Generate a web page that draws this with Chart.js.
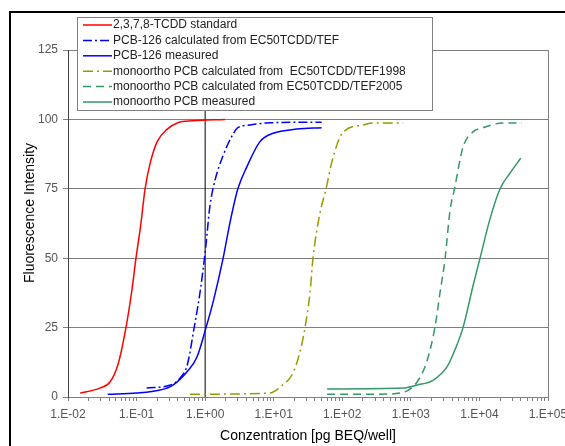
<!DOCTYPE html>
<html>
<head>
<meta charset="utf-8">
<script src="https://cdn.jsdelivr.net/npm/chart.js@4"></script>
<style>
  html, body { margin: 0; padding: 0; background: #fff; }
  #wrap { width: 565px; height: 446px; position: relative; }
</style>
</head>
<body>
<div id="wrap"><canvas id="fusionChart" width="565" height="446"></canvas></div>
<script>
// x ticks (log scale, pg BEQ/well)
const xTickValues = [0.01, 0.1, 1, 10, 100, 1000, 10000, 100000];
const xTickLabels = ["1.E-02", "1.E-01", "1.E+00", "1.E+01", "1.E+02", "1.E+03", "1.E+04", "1.E+05"];
const yTicks = [0, 25, 50, 75, 100, 125];

const seriesNames = [
  "2,3,7,8-TCDD standard",
  "PCB-126 calculated from EC50TCDD/TEF",
  "PCB-126 measured",
  "monoortho PCB calculated from  EC50TCDD/TEF1998",
  "monoortho PCB calculated from EC50TCDD/TEF2005",
  "monoortho PCB measured"
];

// 2,3,7,8-TCDD standard
const tcddX = [0.015, 0.029, 0.041, 0.054, 0.07, 0.085, 0.098, 0.115, 0.133, 0.157, 0.2, 0.28, 0.4, 0.66, 1.95];
const tcddY = [1.4, 3.2, 5.4, 12, 25, 38, 50, 62, 75, 84, 92, 96.5, 98.8, 99.5, 100];

// PCB-126 calculated
const pcbCalcX = [0.14, 0.31, 0.43, 0.54, 0.6, 0.67, 0.84, 1.02, 1.17, 1.39, 1.83, 2.46, 3.0, 4.5, 8.8, 50];
const pcbCalcY = [3.2, 4.3, 6.8, 10.9, 16, 23, 37.5, 54, 68.5, 78, 87, 94, 97, 98, 98.8, 99];

// PCB-126 measured
const pcbMeasX = [0.038, 0.1, 0.22, 0.34, 0.54, 0.76, 1.03, 1.33, 1.83, 2.31, 3.0, 4.07, 6.3, 9.8, 21.8, 50];
const pcbMeasY = [1, 1.4, 2.5, 4.3, 9, 14.4, 25, 35, 50, 63, 75, 83, 92, 95, 96.5, 97];

// monoortho TEF1998
const mo98X = [0.6, 8.8, 12.4, 19, 24, 28.6, 33.8, 37.4, 47, 58, 71, 100, 200, 280, 770];
const mo98Y = [1, 1.4, 3.6, 8.6, 16, 25, 37.5, 50, 66, 75, 85, 95, 98, 98.7, 98.7];

// monoortho TEF2005
const mo05X = [60, 316, 690, 1230, 1720, 2240, 2660, 3160, 3720, 4330, 5760, 8050, 11200, 22000, 41500];
const mo05Y = [1, 1, 1.4, 5.4, 13, 25, 37.5, 50, 67, 75, 90, 95.5, 97, 98.7, 98.7];

// monoortho measured
const moMeasX = [60, 770, 1230, 2100, 3400, 4400, 5760, 8050, 10200, 14200, 20000, 28000, 40000];
const moMeasY = [2.9, 3.2, 4.3, 6, 11, 17, 25, 40, 50, 64, 75, 80.7, 86];

function pts(xs, ys) {
  return xs.map((x, i) => ({ x: x, y: ys[i] }));
}

function line(label, xs, ys, color, dash) {
  return {
    label: label,
    data: pts(xs, ys),
    showLine: true,
    borderColor: color,
    backgroundColor: color,
    borderWidth: 1.5,
    borderDash: dash,
    pointRadius: 0,
    cubicInterpolationMode: "monotone",
    fill: false
  };
}

// all log ticks 1..9 per decade, labels only on the decades
const allXTicks = [];
for (let e = -2; e <= 4; e++) {
  for (let m = 1; m <= 9; m++) allXTicks.push(Number((m * Math.pow(10, e)).toPrecision(12)));
}
allXTicks.push(100000);

const FONT = '"Liberation Sans", Arial, sans-serif';

const extras = {
  id: "extras",
  afterDraw(chart) {
    const ctx = chart.ctx;
    const a = chart.chartArea;
    ctx.save();
    // right border of plot
    ctx.strokeStyle = "#808080";
    ctx.lineWidth = 1;
    ctx.beginPath();
    ctx.moveTo(a.right + 0.5, a.top);
    ctx.lineTo(a.right + 0.5, a.bottom);
    ctx.stroke();

    // legend box
    const lx = 77, ly = 17, lw = 355, lh = 93;
    ctx.fillStyle = "#fff";
    ctx.fillRect(lx, ly, lw, lh);
    ctx.strokeStyle = "#808080";
    ctx.strokeRect(lx + 0.5, ly + 0.5, lw, lh);
    ctx.font = "12px " + FONT;
    ctx.textBaseline = "middle";
    ctx.textAlign = "left";
    for (let i = 0; i < seriesNames.length; i++) {
      const ds = chart.data.datasets[i];
      const y = 25 + i * 15.4;
      ctx.strokeStyle = ds.borderColor;
      ctx.lineWidth = 1.5;
      ctx.setLineDash(ds.borderDash || []);
      ctx.beginPath();
      ctx.moveTo(83, y);
      ctx.lineTo(112, y);
      ctx.stroke();
      ctx.setLineDash([]);
      ctx.fillStyle = "#222";
      ctx.fillText(seriesNames[i], 113, y);
    }

    // axis titles
    ctx.fillStyle = "#000";
    ctx.font = "14px " + FONT;
    ctx.textAlign = "center";
    ctx.fillText("Conzentration [pg BEQ/well]", 308, 436);
    ctx.save();
    ctx.translate(30, 213);
    ctx.rotate(-Math.PI / 2);
    ctx.fillText("Fluorescence Intensity", 0, 0);
    ctx.restore();

    // outer frame
    ctx.strokeStyle = "#000";
    ctx.lineWidth = 2;
    ctx.beginPath();
    ctx.moveTo(10, 446);
    ctx.lineTo(10, 12);
    ctx.lineTo(565, 12);
    ctx.stroke();
    ctx.restore();
  }
};

const datasets = [
  line(seriesNames[0], tcddX, tcddY, "#ff0000", []),
  line(seriesNames[1], pcbCalcX, pcbCalcY, "#0000ff", [9, 3, 2, 3]),
  line(seriesNames[2], pcbMeasX, pcbMeasY, "#0000ff", []),
  line(seriesNames[3], mo98X, mo98Y, "#999900", [10, 4, 2, 4]),
  line(seriesNames[4], mo05X, mo05Y, "#339966", [8, 5]),
  line(seriesNames[5], moMeasX, moMeasY, "#339966", []),
  {
    label: "ref",
    data: [{ x: 1, y: 0 }, { x: 1, y: 125 }],
    showLine: true,
    borderColor: "#000",
    borderWidth: 1,
    pointRadius: 0,
    order: 10
  }
];

new Chart(document.getElementById("fusionChart").getContext("2d"), {
  type: "scatter",
  data: { datasets: datasets },
  options: {
    responsive: false,
    animation: false,
    devicePixelRatio: 1,
    layout: { padding: { top: 50, right: 17, left: 0, bottom: 0 } },
    plugins: { legend: { display: false }, tooltip: { enabled: false } },
    scales: {
      x: {
        type: "logarithmic",
        min: 0.01,
        max: 100000,
        afterBuildTicks: s => { s.ticks = allXTicks.map(v => ({ value: v })); },
        afterFit: s => { s.height = 49; s.paddingLeft = 0; s.paddingRight = 0; },
        ticks: {
          autoSkip: false,
          maxRotation: 0,
          padding: 6,
          color: "#555",
          font: { family: FONT, size: 12 },
          callback: v => {
            const k = xTickValues.findIndex(t => Math.abs(t - v) / t < 1e-9);
            return k >= 0 ? xTickLabels[k] : "";
          }
        },
        grid: { drawOnChartArea: false, color: "#808080", tickLength: 4 },
        border: { color: "#808080" }
      },
      y: {
        min: 0,
        max: 125,
        afterBuildTicks: s => { s.ticks = yTicks.map(v => ({ value: v })); },
        afterFit: s => { s.width = 68; s.paddingTop = 0; s.paddingBottom = 0; },
        ticks: {
          padding: 5,
          color: "#555",
          font: { family: FONT, size: 12 }
        },
        grid: { color: "#808080", tickLength: 5 },
        border: { color: "#404040" }
      }
    }
  },
  plugins: [extras]
});
</script>
</body>
</html>
